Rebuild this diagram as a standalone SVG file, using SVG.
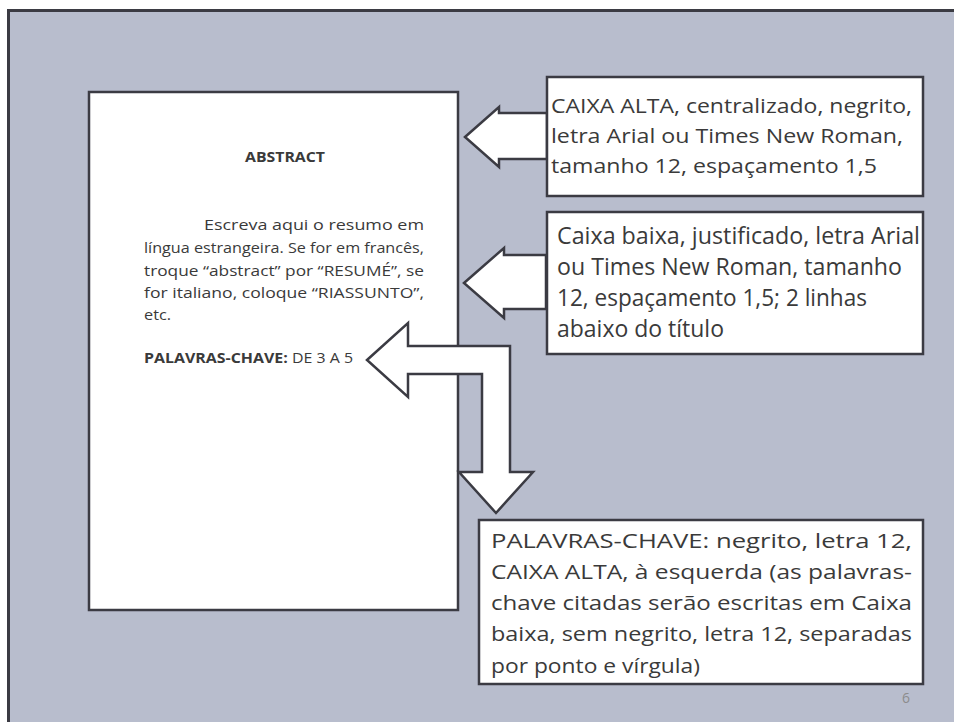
<svg xmlns="http://www.w3.org/2000/svg" width="954" height="722" viewBox="0 0 954 722">
<style>
.shape{fill:#ffffff;stroke:#3b3b43;stroke-width:2.5;stroke-linejoin:miter}
.t{font-family:"Open Sans","Noto Sans","Liberation Sans",sans-serif;fill:#3a3a3a}
.b{font-weight:bold}
</style>
<rect x="0" y="0" width="954" height="722" fill="#ffffff"/>
<rect id="frame" x="8.5" y="10.5" width="960" height="730" fill="#b8bdcd" stroke="#3b3b43" stroke-width="3"/>

<g id="page">
<rect class="shape" x="89" y="92" width="369" height="518"/>
<text class="t b" x="285" y="162" font-size="14.5" text-anchor="middle" textLength="80" lengthAdjust="spacingAndGlyphs">ABSTRACT</text>
<g class="t" font-size="14.5">
<text x="204" y="230" textLength="220" lengthAdjust="spacingAndGlyphs">Escreva aqui o resumo em</text>
<text x="144" y="253" textLength="280" lengthAdjust="spacingAndGlyphs">língua estrangeira. Se for em francês,</text>
<text x="144" y="276" textLength="280" lengthAdjust="spacingAndGlyphs">troque “abstract” por “RESUMÉ”, se</text>
<text x="144" y="298" textLength="280" lengthAdjust="spacingAndGlyphs">for italiano, coloque “RIASSUNTO”,</text>
<text x="144" y="320" textLength="27" lengthAdjust="spacingAndGlyphs">etc.</text>
<text x="144" y="363" textLength="209" lengthAdjust="spacingAndGlyphs"><tspan class="b">PALAVRAS-CHAVE:</tspan> DE 3 A 5</text>
</g>
</g>

<g id="connectors">
<path class="shape" d="M465,137 L499,107 L499,113 L547,113 L547,159 L499,159 L499,167 Z"/>
<path class="shape" d="M464,283 L504,248 L504,255 L546,255 L546,309 L504,309 L504,318 Z"/>
<path class="shape" d="M367,360 L408,323 L408,346 L510,346 L510,472 L533,472 L496,513 L459,472 L482,472 L482,374 L408,374 L408,397 Z"/>
</g>

<g id="box1">
<rect class="shape" x="547" y="77" width="376" height="119"/>
<g class="t" font-size="20.5">
<text x="551" y="113" textLength="361" lengthAdjust="spacingAndGlyphs">CAIXA ALTA, centralizado, negrito,</text>
<text x="551" y="143" textLength="352" lengthAdjust="spacingAndGlyphs">letra Arial ou Times New Roman,</text>
<text x="551" y="173" textLength="326" lengthAdjust="spacingAndGlyphs">tamanho 12, espaçamento 1,5</text>
</g>
</g>

<g id="box2">
<rect class="shape" x="547" y="212" width="376" height="142"/>
<g class="t" font-size="23">
<text x="557" y="244" textLength="363" lengthAdjust="spacingAndGlyphs">Caixa baixa, justificado, letra Arial</text>
<text x="557" y="275" textLength="345" lengthAdjust="spacingAndGlyphs">ou Times New Roman, tamanho</text>
<text x="557" y="306" textLength="310" lengthAdjust="spacingAndGlyphs">12, espaçamento 1,5; 2 linhas</text>
<text x="557" y="337" textLength="167" lengthAdjust="spacingAndGlyphs">abaixo do título</text>
</g>
</g>

<g id="box3">
<rect class="shape" x="479" y="520" width="444" height="164"/>
<g class="t" font-size="20.5">
<text x="491" y="548" textLength="421" lengthAdjust="spacingAndGlyphs">PALAVRAS-CHAVE: negrito, letra 12,</text>
<text x="491" y="579" textLength="421" lengthAdjust="spacingAndGlyphs">CAIXA ALTA, à esquerda (as palavras-</text>
<text x="491" y="610" textLength="421" lengthAdjust="spacingAndGlyphs">chave citadas serão escritas em Caixa</text>
<text x="491" y="641" textLength="421" lengthAdjust="spacingAndGlyphs">baixa, sem negrito, letra 12, separadas</text>
<text x="491" y="673" textLength="209" lengthAdjust="spacingAndGlyphs">por ponto e vírgula)</text>
</g>
</g>

<text id="pagenum" x="902" y="703" font-family="'Open Sans',sans-serif" font-size="14" fill="#8c8c8c">6</text>
</svg>
